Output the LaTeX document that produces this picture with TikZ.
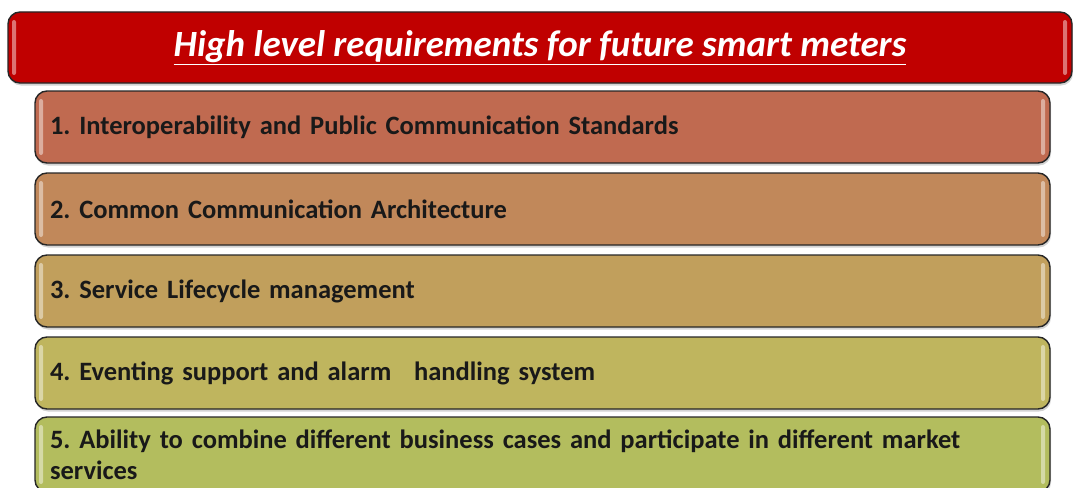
\documentclass[tikz,border=0pt]{standalone}
\usepackage{fontspec}
\setmainfont{Carlito}
\usepackage{xcolor}
\usetikzlibrary{positioning,shapes,shadows,calc}
\frenchspacing

\definecolor{titlered}{HTML}{C00000}
\definecolor{reqone}{HTML}{C06A50}
\definecolor{reqtwo}{HTML}{C1885A}
\definecolor{reqthree}{HTML}{C19F5C}
\definecolor{reqfour}{HTML}{BFB55E}
\definecolor{reqfive}{HTML}{B3BD5E}

\begin{document}
\begin{tikzpicture}[x=1pt,y=1pt,
                bar/.style={rectangle, rounded corners=12pt, draw=black!85, line width=1.4pt, outer sep=0pt,
                    drop shadow={opacity=0.35, shadow xshift=1pt, shadow yshift=-2.5pt}},
                heading/.style={bar, fill=titlered, minimum width=1064pt, minimum height=71pt,
                    font=\fontsize{37}{44}\selectfont\bfseries\itshape, text=white},
                req/.style={bar, minimum width=1015pt, minimum height=72pt, text width=985pt,
                    align=left, font=\fontsize{26.5}{31}\selectfont\bfseries, text=black!90},
                shine/.style={fill=white, opacity=0.45, rounded corners=2pt}
            ]
                \useasboundingbox (0,0) rectangle (1073,-487);

                \node[heading] (title) at (540,-47.5) {\underline{High level requirements for future smart meters}};
                \node[req, fill=reqone, below=8pt of title, xshift=2.5pt] (r1) {1. Interoperability and Public Communication Standards};
                \node[req, fill=reqtwo, below=10pt of r1] (r2) {2. Common Communication Architecture};
                \node[req, fill=reqthree, below=10pt of r2] (r3) {3. Service Lifecycle management};
                \node[req, fill=reqfour, below=10pt of r3] (r4) {4. Eventing support and alarm\hspace{14pt} handling system};
                \node[req, fill=reqfive, below=8pt of r4, minimum height=75pt] (r5) {5. Ability to combine different business cases and participate in different market\\services};

                % glossy strips on both inner edges
                \foreach \b in {title,r1,r2,r3,r4,r5} {
                    \fill[shine] ([xshift=4pt,yshift=-8pt]\b.north west) rectangle ([xshift=8pt,yshift=8pt]\b.south west);
                    \fill[shine] ([xshift=-9pt,yshift=-8pt]\b.north east) rectangle ([xshift=-5pt,yshift=8pt]\b.south east);
                }
            \end{tikzpicture}
\end{document}
